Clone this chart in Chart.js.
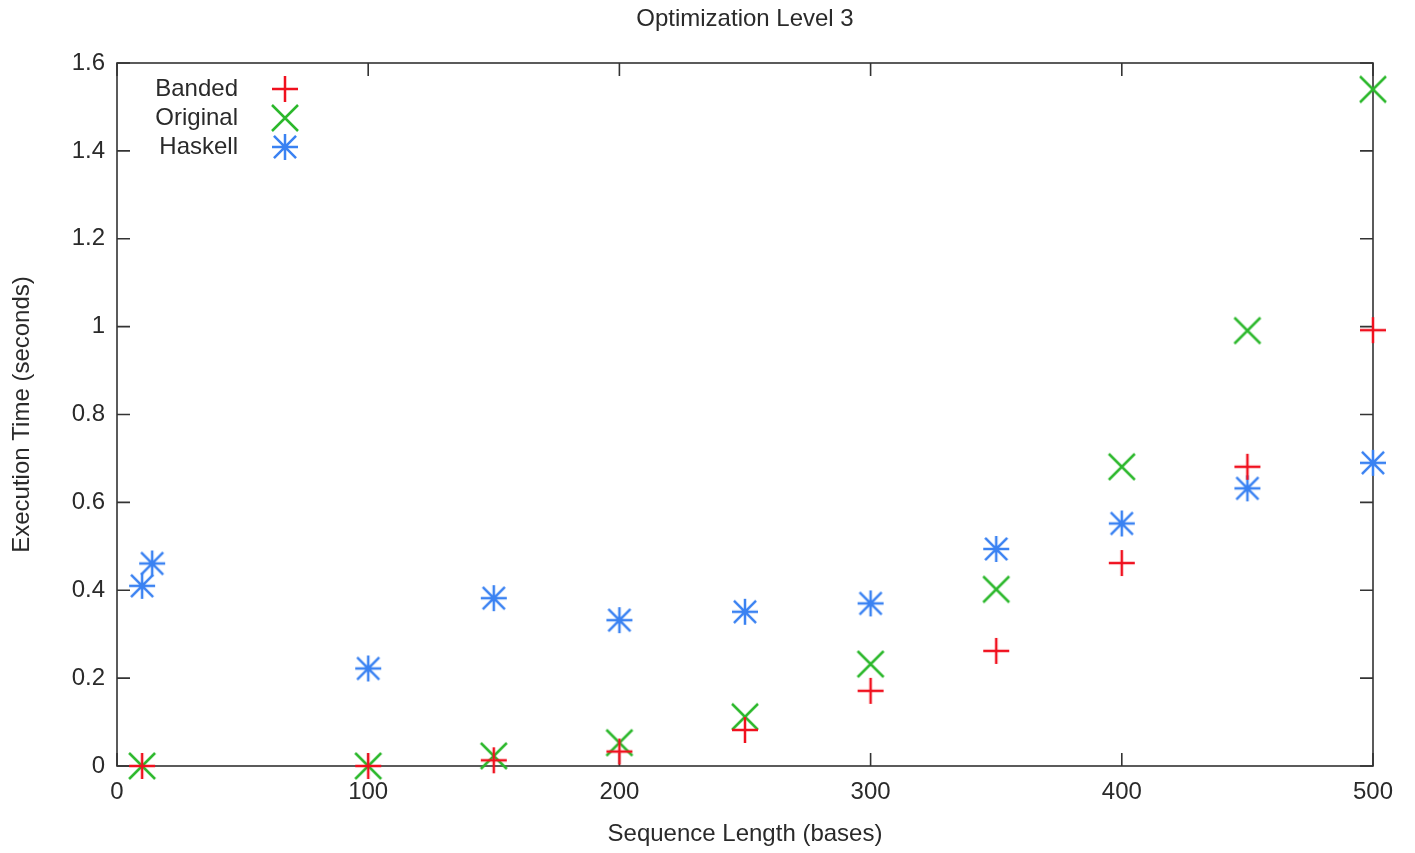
<!DOCTYPE html>
<html>
<head>
<meta charset="utf-8">
<script src="https://cdn.jsdelivr.net/npm/chart.js@4.4.0/dist/chart.umd.min.js"></script>
<style>
  html, body { margin: 0; padding: 0; background: #fff; }
  #wrap { width: 1415px; height: 853px; }
</style>
</head>
<body>
<div id="wrap"><canvas id="chart"></canvas></div>
<script>
// values
const bandedX = [10, 100, 150, 200, 250, 300, 350, 400, 450, 500];
const banded = [0, 0, 0.013, 0.033, 0.082, 0.171, 0.262, 0.462, 0.681, 0.992];
const originalX = [10, 100, 150, 200, 250, 300, 350, 400, 450, 500];
const original = [0, 0, 0.023, 0.053, 0.112, 0.232, 0.402, 0.681, 0.991, 1.540];
const haskellX = [10, 14, 100, 150, 200, 250, 300, 350, 400, 450, 500];
const haskell = [0.41, 0.461, 0.222, 0.382, 0.332, 0.351, 0.370, 0.494, 0.552, 0.632, 0.690];
const xTicks = [0, 100, 200, 300, 400, 500];
const yTicks = [0, 0.2, 0.4, 0.6, 0.8, 1, 1.2, 1.4, 1.6];

const toPoints = (xs, ys) => xs.map((x, i) => ({ x: x, y: ys[i] }));
const FONT = 'Liberation Sans, Arial, sans-serif';
const INK = '#2a2a2a';

// gnuplot-like point symbols drawn on small canvases
function makeMarker(kind, color) {
  const c = document.createElement('canvas');
  c.width = 32; c.height = 32;
  const g = c.getContext('2d');
  const m = 16, h = 13;
  g.strokeStyle = color;
  g.lineWidth = 2.5;
  g.beginPath();
  if (kind === 'plus' || kind === 'star') {
    g.moveTo(m - h, m); g.lineTo(m + h, m);
    g.moveTo(m, m - h); g.lineTo(m, m + h);
  }
  if (kind === 'cross' || kind === 'star') {
    const d = kind === 'star' ? h * 0.85 : h;
    g.moveTo(m - d, m - d); g.lineTo(m + d, m + d);
    g.moveTo(m - d, m + d); g.lineTo(m + d, m - d);
  }
  g.stroke();
  return c;
}

// frame with inward ticks on all four sides
const framePlugin = {
  id: 'frame',
  beforeDatasetsDraw(chart) {
    const { ctx, chartArea: a } = chart;
    const xs = chart.scales.x, ys = chart.scales.y;
    const len = 13;
    ctx.save();
    ctx.strokeStyle = '#333';
    ctx.lineWidth = 1.6;
    ctx.strokeRect(a.left, a.top, a.right - a.left, a.bottom - a.top);
    ctx.beginPath();
    xTicks.forEach(v => {
      const px = xs.getPixelForValue(v);
      ctx.moveTo(px, a.bottom); ctx.lineTo(px, a.bottom - len);
      ctx.moveTo(px, a.top); ctx.lineTo(px, a.top + len);
    });
    yTicks.forEach(v => {
      const py = ys.getPixelForValue(v);
      ctx.moveTo(a.left, py); ctx.lineTo(a.left + len, py);
      ctx.moveTo(a.right, py); ctx.lineTo(a.right - len, py);
    });
    ctx.stroke();

    // title centred over the plot area
    ctx.fillStyle = INK;
    ctx.font = '24px ' + FONT;
    ctx.textAlign = 'center';
    ctx.textBaseline = 'middle';
    ctx.fillText('Optimization Level 3', (a.left + a.right) / 2, 19);
    ctx.restore();
  }
};

// key in the top left corner: text then symbol
const keyPlugin = {
  id: 'key',
  afterDatasetsDraw(chart) {
    const { ctx, chartArea: a } = chart;
    ctx.save();
    ctx.font = '24px ' + FONT;
    ctx.textAlign = 'right';
    ctx.textBaseline = 'middle';
    chart.data.datasets.forEach((ds, i) => {
      const y = a.top + 26 + i * 29;
      ctx.fillStyle = INK;
      ctx.fillText(ds.label, a.left + 121, y);
      const img = ds.pointStyle;
      ctx.drawImage(img, a.left + 168 - img.width / 2, y - img.height / 2);
    });
    ctx.restore();
  }
};

const red = '#f0101e', green = '#2cb82c', blue = '#3a82f2';

new Chart(document.getElementById('chart'), {
  type: 'scatter',
  data: {
    datasets: [
      {
        label: 'Banded',
        data: toPoints(bandedX, banded),
        pointStyle: makeMarker('plus', red),
        pointRadius: 13,
        borderColor: red,
        backgroundColor: red,
        clip: false
      },
      {
        label: 'Original',
        data: toPoints(originalX, original),
        pointStyle: makeMarker('cross', green),
        pointRadius: 13,
        borderColor: green,
        backgroundColor: green,
        clip: false
      },
      {
        label: 'Haskell',
        data: toPoints(haskellX, haskell),
        pointStyle: makeMarker('star', blue),
        pointRadius: 13,
        borderColor: blue,
        backgroundColor: blue,
        clip: false
      }
    ]
  },
  options: {
    responsive: true,
    maintainAspectRatio: false,
    animation: false,
    layout: { padding: { left: 0, right: 42, top: 63, bottom: 0 } },
    plugins: {
      legend: { display: false },
      tooltip: { enabled: false },
      title: { display: false }
    },
    scales: {
      x: {
        type: 'linear',
        min: 0,
        max: 500,
        afterBuildTicks: s => { s.ticks = xTicks.map(v => ({ value: v })); },
        afterFit: s => { s.height = 87; },
        grid: { display: false, drawTicks: false },
        border: { display: false },
        ticks: { color: INK, padding: 12, font: { family: FONT, size: 24 } },
        title: {
          display: true,
          text: 'Sequence Length (bases)',
          color: INK,
          font: { family: FONT, size: 24 },
          padding: { top: 0, bottom: 4 }
        }
      },
      y: {
        type: 'linear',
        min: 0,
        max: 1.6,
        afterBuildTicks: s => { s.ticks = yTicks.map(v => ({ value: v })); },
        afterFit: s => { s.width = 117; },
        grid: { display: false, drawTicks: false },
        border: { display: false },
        ticks: {
          color: INK,
          padding: 12,
          font: { family: FONT, size: 24 },
          callback: v => String(+v.toFixed(1))
        },
        title: {
          display: true,
          text: 'Execution Time (seconds)',
          color: INK,
          font: { family: FONT, size: 24 },
          padding: { top: 8, bottom: 0 }
        }
      }
    }
  },
  plugins: [framePlugin, keyPlugin]
});
</script>
</body>
</html>
